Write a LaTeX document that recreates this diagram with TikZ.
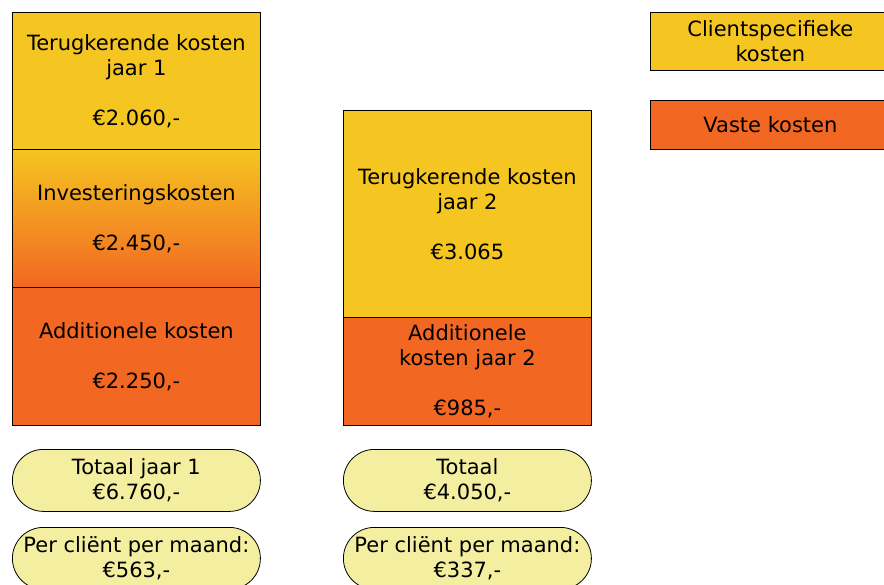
\documentclass[tikz,border=0pt]{standalone}
\usepackage{fontspec}
\setmainfont{DejaVu Sans}
\definecolor{kostgeel}{HTML}{F5C521}
\definecolor{kostoranje}{HTML}{F26722}
\definecolor{totaalgeel}{HTML}{F4EFA0}
\tikzset{
  kost/.style={draw=black, line width=0.8pt, inner sep=0pt, minimum width=248pt,
    align=center, anchor=north west, font=\fontsize{21}{25}\selectfont},
  geelkost/.style={kost, fill=kostgeel},
  oranjekost/.style={kost, fill=kostoranje},
  overgang/.style={kost, top color=kostgeel, bottom color=kostoranje},
  totaal/.style={kost, fill=totaalgeel, minimum height=62pt, rounded corners=31pt},
  legenda/.style={kost, minimum width=240pt}
}

\begin{document}
\begin{tikzpicture}[x=1pt,y=-1pt]
  \useasboundingbox (0,0) rectangle (884,585);
  \clip (0,0) rectangle (884,585);
  % jaar 1
  \node[geelkost, minimum height=137pt] (terug1) at (12,12)
    {Terugkerende kosten\\jaar 1\\[25pt]€2.060,-};
  \node[overgang, minimum height=138pt] (invest) at (12,149)
    {Investeringskosten\\[25pt]€2.450,-};
  \node[oranjekost, minimum height=138pt] (add1) at (12,287)
    {Additionele kosten\\[25pt]€2.250,-};
  \node[totaal] (tot1) at (12,449) {Totaal jaar 1\\€6.760,-};
  \node[totaal] (maand1) at (12,527) {Per cliënt per maand:\\€563,-};
  % jaar 2
  \node[geelkost, minimum height=207pt] (terug2) at (343,110)
    {Terugkerende kosten\\jaar 2\\[25pt]€3.065};
  \node[oranjekost, minimum height=108pt] (add2) at (343,317)
    {Additionele\\kosten jaar 2\\[25pt]€985,-};
  \node[totaal] (tot2) at (343,449) {Totaal\\€4.050,-};
  \node[totaal] (maand2) at (343,527) {Per cliënt per maand:\\€337,-};
  % legenda
  \node[legenda, fill=kostgeel, minimum height=58pt] (specifiek) at (650,12)
    {Clientspecifieke\\kosten};
  \node[legenda, fill=kostoranje, minimum height=49pt] (vast) at (650,100)
    {Vaste kosten};
\end{tikzpicture}
\end{document}
